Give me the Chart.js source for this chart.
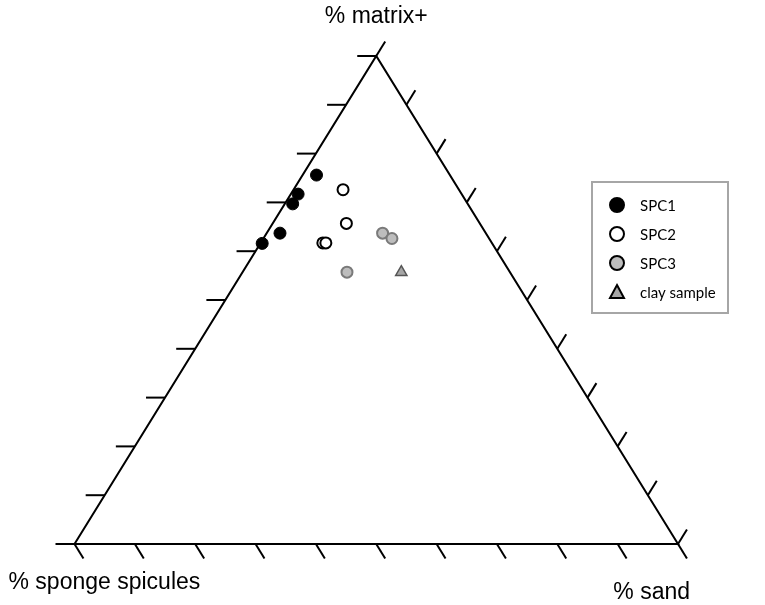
<!DOCTYPE html>
<html>
<head>
<meta charset="utf-8">
<script src="https://cdn.jsdelivr.net/npm/chart.js@4.4.1/dist/chart.umd.min.js"></script>
<style>
  html, body { margin: 0; padding: 0; background: #fff; }
  #wrap { width: 765px; height: 605px; }
</style>
</head>
<body>
<div id="wrap"><canvas id="tern" width="765" height="605"></canvas></div>
<script>
// compositions in percent, one array per component for each group
var spc1Matrix   = [75.6, 71.7, 69.7, 63.7, 61.6];
var spc1Spicules = [22.1, 27.1, 29.0, 34.1, 38.1];
var spc1Sand     = [2.3, 1.2, 1.3, 2.2, 0.3];

var spc2Matrix   = [72.6, 65.7, 61.7, 61.7];
var spc2Spicules = [19.2, 22.1, 28.0, 27.5];
var spc2Sand     = [8.2, 12.2, 10.3, 10.8];

var spc3Matrix   = [63.7, 62.6, 55.7];
var spc3Spicules = [17.1, 16.1, 27.0];
var spc3Sand     = [19.2, 21.3, 17.3];

var clayMatrix   = [55.7];
var claySpicules = [18.0];
var claySand     = [26.3];

var tickSteps = [0, 10, 20, 30, 40, 50, 60, 70, 80, 90, 100];
var seriesNames = ['SPC1', 'SPC2', 'SPC3', 'clay sample'];
var apexTitles = ['% matrix+', '% sponge spicules', '% sand'];

// ternary -> plane: sponge spicules corner at (0,0), sand at (100,0), matrix at (50,100)
function toPlane(m, s, d) {
    var t = m + s + d;
    return { x: (d + m / 2) / t * 100, y: m / t * 100 };
}

function points(ms, ss, ds) {
    return ms.map(function (m, i) { return toPlane(m, ss[i], ds[i]); });
}

var ternaryFrame = {
    id: 'ternaryFrame',
    beforeDatasetsDraw: function (chart) {
        var ctx = chart.ctx, xs = chart.scales.x, ys = chart.scales.y;
        var px = function (p) { return { x: xs.getPixelForValue(p.x), y: ys.getPixelForValue(p.y) }; };
        var top = px(toPlane(100, 0, 0));
        var left = px(toPlane(0, 100, 0));
        var right = px(toPlane(0, 0, 100));

        var unit = function (a, b) {
            var dx = b.x - a.x, dy = b.y - a.y, l = Math.sqrt(dx * dx + dy * dy);
            return { x: dx / l, y: dy / l };
        };
        var dirBottom = unit(top, right);   // bottom ticks run along the right edge
        var dirLeft = unit(right, left);    // left ticks run along the base
        var dirRight = unit(left, top);     // right ticks run along the left edge

        ctx.save();
        ctx.strokeStyle = '#000';
        ctx.lineWidth = 2;
        ctx.lineCap = 'butt';

        ctx.beginPath();
        ctx.moveTo(left.x, left.y);
        ctx.lineTo(right.x, right.y);
        ctx.lineTo(top.x, top.y);
        ctx.closePath();
        ctx.stroke();

        var tick = function (p, dir, len) {
            ctx.beginPath();
            ctx.moveTo(p.x, p.y);
            ctx.lineTo(p.x + dir.x * len, p.y + dir.y * len);
            ctx.stroke();
        };

        tickSteps.forEach(function (v) {
            tick(px(toPlane(0, 100 - v, v)), dirBottom, 17);
            tick(px(toPlane(v, 100 - v, 0)), dirLeft, 19);
            tick(px(toPlane(100 - v, 0, v)), dirRight, 17);
        });
        ctx.restore();
    },
    afterDraw: function (chart) {
        var ctx = chart.ctx, xs = chart.scales.x, ys = chart.scales.y;
        var top = { x: xs.getPixelForValue(50), y: ys.getPixelForValue(100) };
        var left = { x: xs.getPixelForValue(0), y: ys.getPixelForValue(0) };
        var right = { x: xs.getPixelForValue(100), y: ys.getPixelForValue(0) };

        ctx.save();
        ctx.fillStyle = '#000';
        ctx.font = '23px "Liberation Sans", Arial, sans-serif';
        ctx.textBaseline = 'alphabetic';
        ctx.textAlign = 'center';
        ctx.fillText(apexTitles[0], top.x, top.y - 33);
        ctx.textAlign = 'left';
        ctx.fillText(apexTitles[1], left.x - 66, left.y + 45);
        ctx.textAlign = 'right';
        ctx.fillText(apexTitles[2], right.x + 12, right.y + 55);

        // legend box
        var bx = 592, by = 182, bw = 136, bh = 131;
        ctx.strokeStyle = '#a6a6a6';
        ctx.lineWidth = 2;
        ctx.strokeRect(bx, by, bw, bh);

        ctx.font = '15px Lato, "Open Sans", sans-serif';
        ctx.textAlign = 'left';
        ctx.textBaseline = 'middle';
        chart.data.datasets.forEach(function (ds, i) {
            var cy = by + 23 + i * 29, cx = bx + 25;
            ctx.fillStyle = ds.backgroundColor;
            ctx.strokeStyle = ds.legendBorder;
            ctx.lineWidth = 2;
            ctx.beginPath();
            if (ds.pointStyle === 'triangle') {
                ctx.moveTo(cx, cy - 7);
                ctx.lineTo(cx + 7, cy + 6);
                ctx.lineTo(cx - 7, cy + 6);
                ctx.closePath();
            } else {
                ctx.arc(cx, cy, 7, 0, Math.PI * 2);
            }
            ctx.fill();
            ctx.stroke();
            ctx.fillStyle = '#000';
            ctx.fillText(ds.label, bx + 48, cy + 1);
        });
        ctx.restore();
    }
};

new Chart(document.getElementById('tern'), {
    type: 'scatter',
    data: {
        datasets: [
            {
                label: seriesNames[0],
                data: points(spc1Matrix, spc1Spicules, spc1Sand),
                pointStyle: 'circle', pointRadius: 6,
                backgroundColor: '#000', borderColor: '#000', borderWidth: 1,
                legendBorder: '#000'
            },
            {
                label: seriesNames[1],
                data: points(spc2Matrix, spc2Spicules, spc2Sand),
                pointStyle: 'circle', pointRadius: 5.5,
                backgroundColor: '#fff', borderColor: '#000', borderWidth: 2,
                legendBorder: '#000'
            },
            {
                label: seriesNames[2],
                data: points(spc3Matrix, spc3Spicules, spc3Sand),
                pointStyle: 'circle', pointRadius: 5.5,
                backgroundColor: '#bdbdbd', borderColor: '#7a7a7a', borderWidth: 2,
                legendBorder: '#000'
            },
            {
                label: seriesNames[3],
                data: points(clayMatrix, claySpicules, claySand),
                pointStyle: 'triangle', pointRadius: 6.5,
                backgroundColor: '#a6a6a6', borderColor: '#555', borderWidth: 1.5,
                legendBorder: '#000'
            }
        ]
    },
    options: {
        responsive: false,
        animation: false,
        clip: false,
        layout: { padding: { left: 74.5, right: 87, top: 56, bottom: 61 } },
        scales: {
            x: { type: 'linear', min: 0, max: 100, display: false },
            y: { type: 'linear', min: 0, max: 100, display: false }
        },
        plugins: {
            legend: { display: false },
            tooltip: { enabled: false }
        }
    },
    plugins: [ternaryFrame]
});
</script>
</body>
</html>
